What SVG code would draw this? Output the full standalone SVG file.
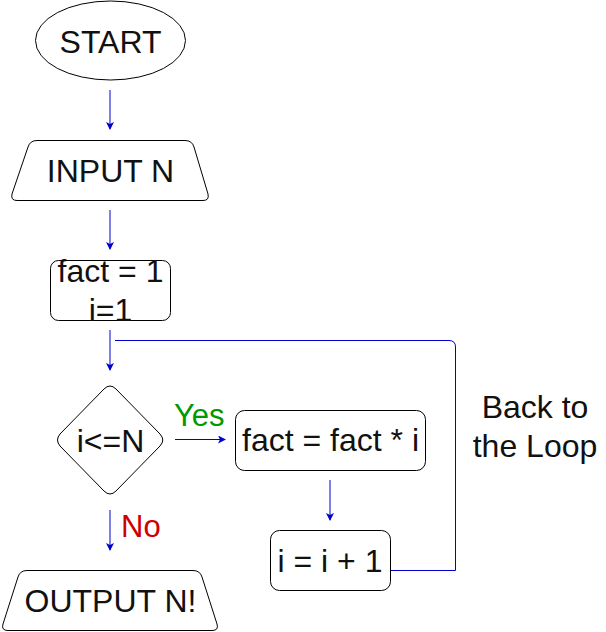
<svg xmlns="http://www.w3.org/2000/svg" width="606" height="632" viewBox="0 0 606 632">
  <style>
    .shape { fill: #ffffff; stroke: #000000; stroke-width: 1; }
    .txt { font-family: "Liberation Sans", Arial, sans-serif; font-size: 32px; fill: #111111; text-anchor: middle; }
    .lbl { font-family: "Liberation Sans", Arial, sans-serif; font-size: 31px; }
    .edge { fill: none; stroke: #0000cc; stroke-width: 1; }
  </style>
  <defs>
    <marker id="arrow" viewBox="0 0 8 8" refX="7" refY="4" markerWidth="8" markerHeight="8" markerUnits="userSpaceOnUse" orient="auto">
      <path d="M0,0 L8,4 L0,8 L2,4 Z" fill="#0000cc"/>
    </marker>
  </defs>
  <rect width="606" height="632" fill="#ffffff"/>

  <g id="connectors">
    <line class="edge" x1="110" y1="90" x2="110" y2="129" marker-end="url(#arrow)"/>
    <line class="edge" x1="110" y1="210" x2="110" y2="249" marker-end="url(#arrow)"/>
    <line class="edge" x1="110" y1="330" x2="110" y2="370" marker-end="url(#arrow)"/>
    <line class="edge" x1="175" y1="439.5" x2="225" y2="439.5" marker-end="url(#arrow)"/>
    <line class="edge" x1="330" y1="480" x2="330" y2="520" marker-end="url(#arrow)"/>
    <line class="edge" x1="110" y1="510" x2="110" y2="550" marker-end="url(#arrow)"/>
    <path class="edge" d="M390,570.5 H455.5 V347 Q455.5,340.5 449,340.5 H115"/>
  </g>

  <g id="start">
    <ellipse class="shape" cx="110.5" cy="40.5" rx="75" ry="39.5"/>
    <text class="txt" x="110.5" y="53" font-size="33">START</text>
  </g>

  <g id="input">
    <path class="shape" d="M37,140.5 H185 Q192,140.5 194,147 L208,194 Q209.5,200.5 203,200.5 H17 Q10.5,200.5 12,194 L28,147 Q30,140.5 37,140.5 Z"/>
    <text class="txt" x="110.5" y="182">INPUT N</text>
  </g>

  <g id="init">
    <rect class="shape" x="50.5" y="260.5" width="120" height="60" rx="8"/>
    <text class="txt" x="110.5" y="282">fact = 1</text>
    <text class="txt" x="110.5" y="321">i=1</text>
  </g>

  <g id="decision">
    <path class="shape" d="M104,389 Q110,383 116,389 L160,434 Q165.5,440 160,446 L116,491 Q110,497 104,491 L60,446 Q55,440 60,434 Z"/>
    <text class="txt" x="110.5" y="451.5">i&lt;=N</text>
  </g>

  <g id="multiply">
    <rect class="shape" x="235.5" y="410.5" width="190" height="60" rx="9"/>
    <text class="txt" x="330.5" y="451">fact = fact * i</text>
  </g>

  <g id="increment">
    <rect class="shape" x="270.5" y="530.5" width="120" height="60" rx="9"/>
    <text class="txt" x="330" y="571.5">i = i + 1</text>
  </g>

  <g id="output">
    <path class="shape" d="M27,570.5 H193 Q200,570.5 202,577 L217,624 Q219,630.5 212,630.5 H8 Q1,630.5 3,624 L18,577 Q20,570.5 27,570.5 Z"/>
    <text class="txt" x="110.5" y="612">OUTPUT N!</text>
  </g>

  <g id="labels">
    <text class="lbl" x="174" y="426" fill="#009900">Yes</text>
    <text class="lbl" x="121" y="537" fill="#cc0000">No</text>
    <text class="txt" x="535" y="418">Back to</text>
    <text class="txt" x="535" y="456.5">the Loop</text>
  </g>
</svg>
